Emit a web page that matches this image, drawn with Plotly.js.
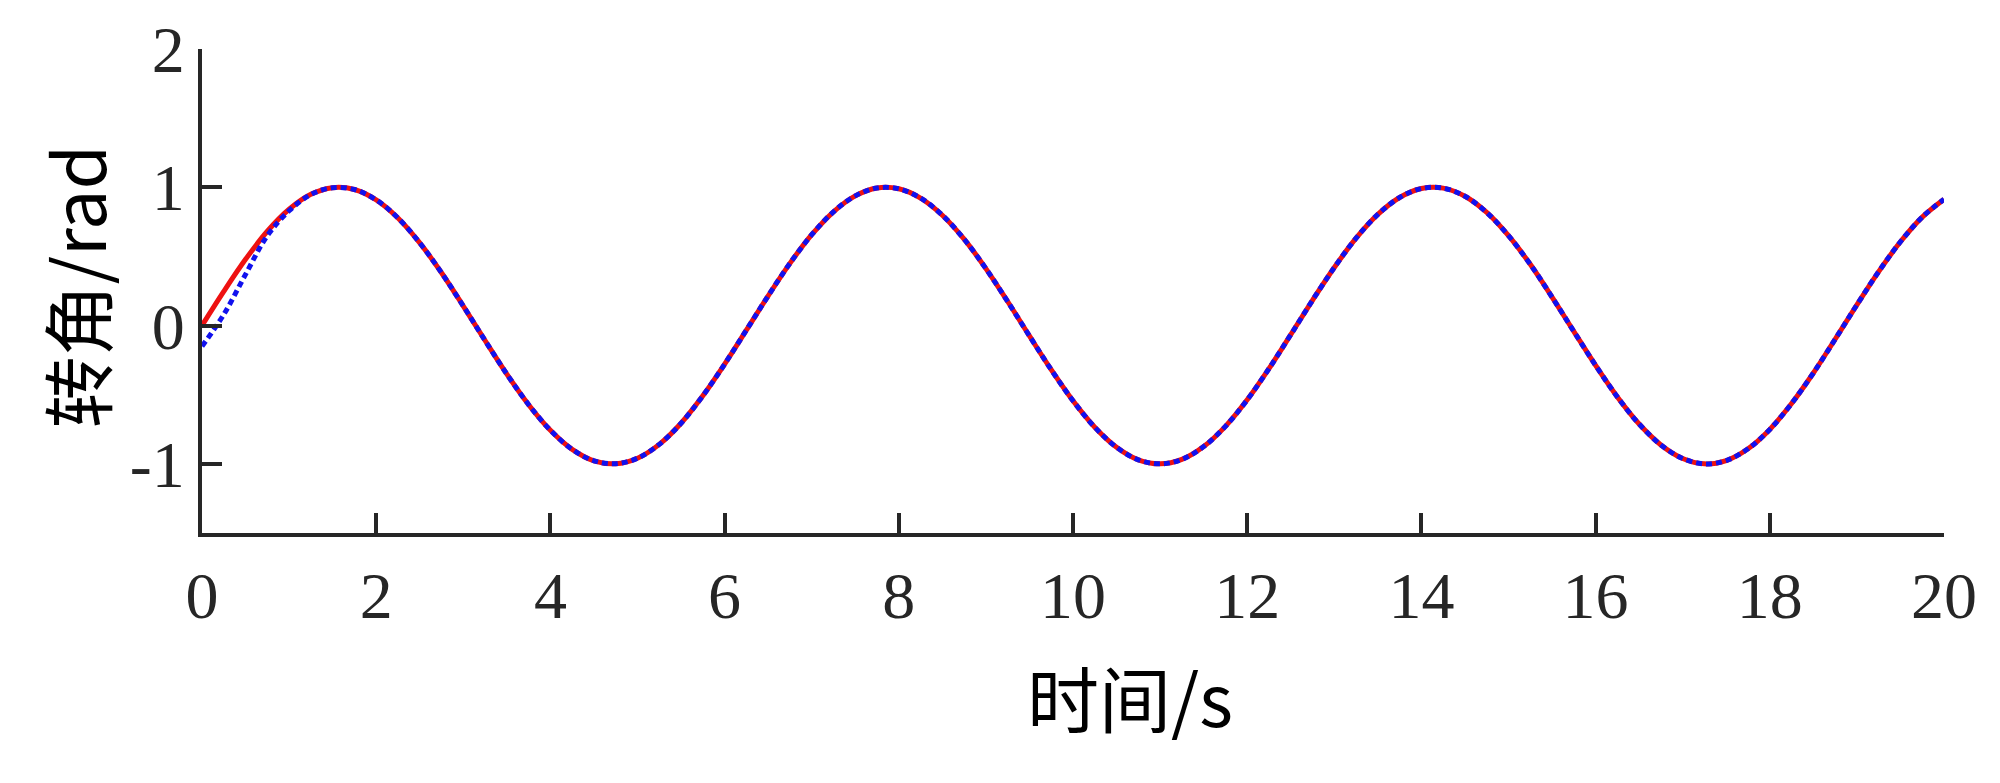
<!DOCTYPE html>
<html>
<head>
<meta charset="utf-8">
<script src="https://cdn.plot.ly/plotly-3.0.1.min.js"></script>
<style>
  html, body { margin: 0; padding: 0; background: #fff; }
  #chart { width: 2000px; height: 783px; }
</style>
</head>
<body>
<div id="chart"></div>
<script>
// time axis (s), read every 0.25 s
const timeS = [
  0, 0.25, 0.5, 0.75, 1, 1.25, 1.5, 1.75, 2, 2.25, 2.5, 2.75, 3, 3.25, 3.5, 3.75,
  4, 4.25, 4.5, 4.75, 5, 5.25, 5.5, 5.75, 6, 6.25, 6.5, 6.75, 7, 7.25, 7.5, 7.75,
  8, 8.25, 8.5, 8.75, 9, 9.25, 9.5, 9.75, 10, 10.25, 10.5, 10.75, 11, 11.25, 11.5, 11.75,
  12, 12.25, 12.5, 12.75, 13, 13.25, 13.5, 13.75, 14, 14.25, 14.5, 14.75, 15, 15.25, 15.5, 15.75,
  16, 16.25, 16.5, 16.75, 17, 17.25, 17.5, 17.75, 18, 18.25, 18.5, 18.75, 19, 19.25, 19.5, 19.75, 20
];

// reference angle (red, solid)
const refAngle = [
  0.000, 0.247, 0.479, 0.682, 0.841, 0.949, 0.997, 0.984, 0.909, 0.778, 0.598, 0.382, 0.141, -0.108, -0.351, -0.572,
  -0.757, -0.895, -0.978, -0.999, -0.959, -0.859, -0.706, -0.508, -0.279, -0.033, 0.215, 0.450, 0.657, 0.823, 0.938, 0.995,
  0.989, 0.922, 0.798, 0.625, 0.412, 0.174, -0.075, -0.319, -0.544, -0.735, -0.880, -0.971, -1.000, -0.968, -0.875, -0.729,
  -0.537, -0.311, -0.066, 0.183, 0.420, 0.632, 0.804, 0.926, 0.991, 0.994, 0.935, 0.818, 0.650, 0.443, 0.206, -0.042,
  -0.288, -0.516, -0.712, -0.863, -0.961, -1.000, -0.976, -0.891, -0.751, -0.564, -0.343, -0.099, 0.150, 0.390, 0.606, 0.784, 0.913
];

// actual angle (blue, dotted)
const actAngle = [
  -0.150, 0.080, 0.370, 0.650, 0.830, 0.948, 0.997, 0.984, 0.909, 0.778, 0.598, 0.382, 0.141, -0.108, -0.351, -0.572,
  -0.757, -0.895, -0.978, -0.999, -0.959, -0.859, -0.706, -0.508, -0.279, -0.033, 0.215, 0.450, 0.657, 0.823, 0.938, 0.995,
  0.989, 0.922, 0.798, 0.625, 0.412, 0.174, -0.075, -0.319, -0.544, -0.735, -0.880, -0.971, -1.000, -0.968, -0.875, -0.729,
  -0.537, -0.311, -0.066, 0.183, 0.420, 0.632, 0.804, 0.926, 0.991, 0.994, 0.935, 0.818, 0.650, 0.443, 0.206, -0.042,
  -0.288, -0.516, -0.712, -0.863, -0.961, -1.000, -0.976, -0.891, -0.751, -0.564, -0.343, -0.099, 0.150, 0.390, 0.606, 0.784, 0.913
];

const xTicks = [0, 2, 4, 6, 8, 10, 12, 14, 16, 18, 20];
const yTicks = [-1, 0, 1, 2];

const TICK_FONT = { family: "Liberation Serif, DejaVu Serif, serif", size: 66, color: "#262626" };
const TITLE_FONT = { family: "Noto Sans CJK SC, sans-serif", size: 72, color: "#000" };

const traces = [
  {
    x: timeS,
    y: refAngle,
    mode: "lines",
    type: "scatter",
    line: { color: "#ee1111", width: 5, shape: "spline", smoothing: 1 },
    hoverinfo: "skip",
  },
  {
    x: timeS,
    y: actAngle,
    mode: "lines",
    type: "scatter",
    line: { color: "#1111ee", width: 5, dash: "6px,4px", shape: "spline", smoothing: 1 },
    hoverinfo: "skip",
  },
];

const axisBase = {
  showline: true,
  linecolor: "#262626",
  linewidth: 4,
  ticks: "inside",
  ticklen: 20,
  tickwidth: 4,
  tickcolor: "#262626",
  tickfont: TICK_FONT,
  showgrid: false,
  zeroline: false,
  mirror: false,
  tickmode: "array",
};

const layout = {
  width: 2000,
  height: 783,
  margin: { l: 202, r: 56, t: 49, b: 250 },
  paper_bgcolor: "white",
  plot_bgcolor: "white",
  showlegend: false,
  xaxis: {
    ...axisBase,
    range: [0, 20],
    tickvals: xTicks,
    ticktext: xTicks.map(String),
    ticklabelstandoff: 2,
  },
  yaxis: {
    ...axisBase,
    range: [-1.5, 2],
    tickvals: yTicks,
    ticktext: yTicks.map(String),
    ticklabelstandoff: 0,
  },
  annotations: [
    {
      text: "时间/s",
      xref: "paper", yref: "paper",
      x: 0.533, y: -0.335,
      xanchor: "center", yanchor: "middle",
      showarrow: false,
      font: TITLE_FONT,
    },
    {
      text: "转角/rad",
      xref: "paper", yref: "paper",
      x: -0.0734, y: 0.508,
      xanchor: "center", yanchor: "middle",
      textangle: -90,
      showarrow: false,
      font: TITLE_FONT,
    },
  ],
};

Plotly.newPlot("chart", traces, layout, { displayModeBar: false, staticPlot: true });
</script>
</body>
</html>
